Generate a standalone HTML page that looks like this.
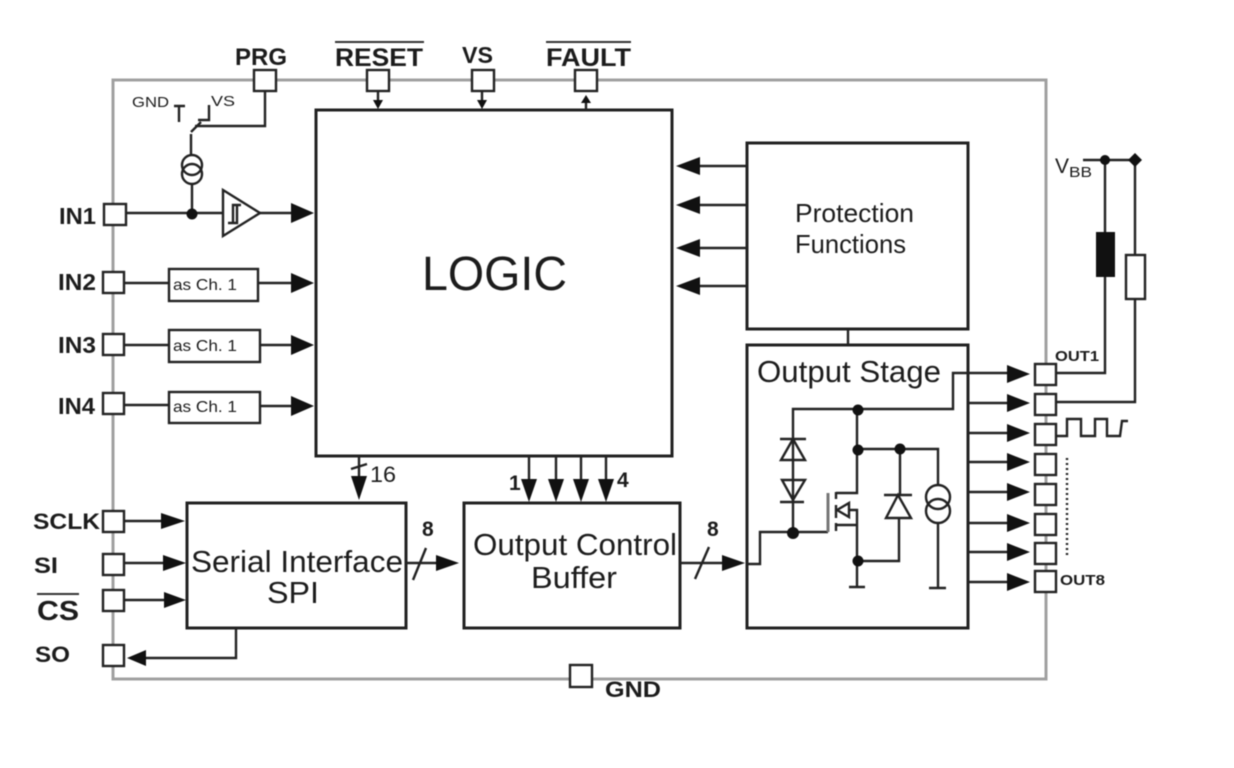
<!DOCTYPE html>
<html><head><meta charset="utf-8"><style>
html,body{margin:0;padding:0;background:#fff;width:1234px;height:768px;overflow:hidden}
svg{display:block;filter:blur(.6px)}
text{font-family:"Liberation Sans",sans-serif;fill:#1c1c1c}
.b{font-weight:bold}
</style></head><body>
<svg width="1234" height="768" viewBox="0 0 1234 768" xmlns="http://www.w3.org/2000/svg">
<rect width="1234" height="768" fill="#fff"/>
<rect x="113" y="80" width="933" height="599" fill="none" stroke="#a0a0a0" stroke-width="3"/>

<g fill="none" stroke="#222" stroke-width="3">
<rect x="316" y="110" width="356" height="346"/>
<rect x="747" y="143" width="221" height="186"/>
<rect x="747" y="345" width="221" height="283"/>
<rect x="187" y="503" width="219" height="125"/>
<rect x="464" y="503" width="216" height="125"/>
</g>

<g fill="none" stroke="#222" stroke-width="2.4">
<path d="M848 329V345"/>
<path d="M265 92V126H195M191 134V155M191 132L201 122M198 120H209V105M174 106H185M179 106V122"/>
<circle cx="192" cy="165" r="10"/><circle cx="192" cy="174" r="10"/>
<path d="M192 184V213M126 213H223M260 213H292"/>
<path d="M223 190L260 213L223 236Z"/>
<path d="M228 223H237V205M233 223V205H241"/>
<path d="M124 283H169M258 283H292M124 345H169M260 345H292M124 405H169M260 406H292"/>
<path d="M378 92V102M482 92V102M586 100V110"/>
<path d="M747 166H698M747 205H698M747 248H698M747 286H698"/>
<path d="M359 456V480M351 469L367 464M529 456V482M556 456V482M581 456V482M606 456V482"/>
<path d="M406 563H438M413 580L426 548M680 563H724M695 579L709 547"/>
<path d="M124 521H163M124 563H165M124 600H166M236 628V658H145"/>
<path d="M747 564H760V532H828M793 532V409H953V373H1010"/>
<path d="M968 403H1010M968 433H1010M968 462H1010M968 492H1010M968 523H1010M968 552H1010M968 582H1010"/>
<path d="M780 439H806M793 439L781 460H805Z"/>
<path d="M782 480H805L793 500ZM780 502H804"/>
<path d="M828 493V532" stroke="#777" stroke-width="3"/>
<path d="M836 492V499M836 505V518M836 523V531"/>
<path d="M857 410V493H836M837 510L849 503V517ZM849 510H857V587M836 525H857M849 587H865"/>
<path d="M858 449H938V486M900 449V495M884 495H912M898 495L886 518H911ZM899 518V561H858"/>
<circle cx="938" cy="497" r="12"/><circle cx="938" cy="511" r="12"/>
<path d="M938 523V588M929 588H946"/>
<path d="M1083 160H1135M1105 160V373H1057M1135 160V402H1057"/>
<path d="M1057 436H1067V419H1081V436H1095V419H1107V436H1120L1122 421H1128"/>
<path d="M1067 458V555" stroke-dasharray="2 3"/>
</g>

<g fill="#111">
<circle cx="192" cy="214" r="5.5"/>
<circle cx="793" cy="533" r="6"/><circle cx="858" cy="410" r="5.5"/><circle cx="858" cy="450" r="5.5"/>
<circle cx="900" cy="449" r="5.5"/><circle cx="858" cy="561" r="5.5"/>
<circle cx="1105" cy="160" r="5"/><path d="M1135 153L1142 160L1135 167L1128 160Z"/>
<rect x="1096" y="232" width="19" height="45"/>
<path d="M291 203L314 213L291 223ZM291 273L314 283L291 293ZM291 335L314 345L291 355ZM291 396L314 406L291 416Z"/>
<path d="M373 100H383L378 109ZM477 100H487L482 109ZM581 103H591L586 95Z"/>
<path d="M700 157L676 166L700 175ZM700 196L676 205L700 214ZM700 239L676 248L700 257ZM700 277L676 286L700 295Z"/>
<path d="M351 476H367L359 500ZM521 479H537L529 502ZM548 479H564L556 502ZM573 479H589L581 502ZM598 479H614L606 502Z"/>
<path d="M436 555L459 563L436 571ZM722 555L745 563L722 571Z"/>
<path d="M161 513L185 521L161 529ZM163 555L186 563L163 571ZM164 592L186 600L164 608ZM146 650L127 658L146 666Z"/>
<path d="M1007 365L1030 374L1007 383ZM1007 394L1030 403L1007 412ZM1007 424L1030 433L1007 442ZM1007 453L1030 462L1007 471ZM1007 483L1030 492L1007 501ZM1007 514L1030 523L1007 532ZM1007 543L1030 552L1007 561ZM1007 573L1030 582L1007 591Z"/>
</g>

<g fill="#fff" stroke="#222" stroke-width="2.4">
<rect x="254" y="70" width="22" height="21"/><rect x="367" y="70" width="22" height="21"/>
<rect x="472" y="70" width="22" height="21"/><rect x="575" y="70" width="22" height="21"/>
<rect x="104" y="204" width="22" height="21"/><rect x="103" y="272" width="21" height="21"/>
<rect x="103" y="334" width="21" height="21"/><rect x="103" y="393" width="21" height="21"/>
<rect x="103" y="511" width="21" height="21"/><rect x="103" y="554" width="21" height="21"/>
<rect x="103" y="590" width="21" height="21"/><rect x="103" y="645" width="21" height="21"/>
<rect x="570" y="665" width="22" height="22"/>
<rect x="1035" y="364" width="21" height="21"/><rect x="1035" y="394" width="21" height="21"/>
<rect x="1035" y="424" width="21" height="21"/><rect x="1035" y="454" width="21" height="21"/>
<rect x="1035" y="484" width="21" height="21"/><rect x="1035" y="514" width="21" height="21"/>
<rect x="1035" y="543" width="21" height="21"/><rect x="1035" y="571" width="21" height="21"/>
<rect x="1126" y="255" width="19" height="44"/>
<rect x="169" y="269" width="89" height="32"/><rect x="169" y="330" width="91" height="32"/><rect x="169" y="392" width="91" height="31"/>
</g>

<path d="M335 42H424M546 42H631M37 594H79" stroke="#333" stroke-width="2" fill="none"/>

<g>
<text class="b" x="235" y="65" font-size="24" textLength="52" lengthAdjust="spacingAndGlyphs">PRG</text>
<text class="b" x="335" y="66" font-size="25" textLength="88" lengthAdjust="spacingAndGlyphs">RESET</text>
<text class="b" x="462" y="63" font-size="23" textLength="31" lengthAdjust="spacingAndGlyphs">VS</text>
<text class="b" x="546" y="66" font-size="25" textLength="85" lengthAdjust="spacingAndGlyphs">FAULT</text>
<text class="b" x="59" y="224" font-size="23" textLength="37" lengthAdjust="spacingAndGlyphs">IN1</text>
<text class="b" x="58" y="290" font-size="23" textLength="38" lengthAdjust="spacingAndGlyphs">IN2</text>
<text class="b" x="58" y="353" font-size="23" textLength="38" lengthAdjust="spacingAndGlyphs">IN3</text>
<text class="b" x="58" y="414" font-size="23" textLength="37" lengthAdjust="spacingAndGlyphs">IN4</text>
<text class="b" x="33" y="529" font-size="22" textLength="67" lengthAdjust="spacingAndGlyphs">SCLK</text>
<text class="b" x="34" y="573" font-size="22" textLength="24" lengthAdjust="spacingAndGlyphs">SI</text>
<text class="b" x="37" y="620" font-size="28" textLength="42" lengthAdjust="spacingAndGlyphs">CS</text>
<text class="b" x="35" y="662" font-size="22" textLength="35" lengthAdjust="spacingAndGlyphs">SO</text>
<text class="b" x="605" y="697" font-size="22" textLength="56" lengthAdjust="spacingAndGlyphs">GND</text>
<text class="b" x="1055" y="361" font-size="15" textLength="44" lengthAdjust="spacingAndGlyphs">OUT1</text>
<text class="b" x="1060" y="585" font-size="15" textLength="45" lengthAdjust="spacingAndGlyphs">OUT8</text>
<text class="b" x="509" y="490" font-size="21">1</text>
<text class="b" x="617" y="487" font-size="21">4</text>
<text class="b" x="422" y="536" font-size="21">8</text>
<text class="b" x="707" y="536" font-size="21">8</text>
</g>

<text x="370" y="482" font-size="22" textLength="26" lengthAdjust="spacingAndGlyphs">16</text>
<text x="132" y="107" font-size="15" textLength="37" lengthAdjust="spacingAndGlyphs">GND</text>
<text x="211" y="106" font-size="15" textLength="24" lengthAdjust="spacingAndGlyphs">VS</text>
<text x="422" y="290" font-size="48" textLength="145" lengthAdjust="spacingAndGlyphs">LOGIC</text>
<text x="795" y="222" font-size="26" textLength="119" lengthAdjust="spacingAndGlyphs">Protection</text>
<text x="795" y="253" font-size="26" textLength="111" lengthAdjust="spacingAndGlyphs">Functions</text>
<text x="757" y="382" font-size="31" textLength="184" lengthAdjust="spacingAndGlyphs">Output Stage</text>
<text x="191" y="572" font-size="31" textLength="212" lengthAdjust="spacingAndGlyphs">Serial Interface</text>
<text x="267" y="603" font-size="31" textLength="52" lengthAdjust="spacingAndGlyphs">SPI</text>
<text x="473" y="555" font-size="31" textLength="204" lengthAdjust="spacingAndGlyphs">Output Control</text>
<text x="531" y="588" font-size="31" textLength="86" lengthAdjust="spacingAndGlyphs">Buffer</text>
<text x="173" y="290" font-size="16" textLength="64" lengthAdjust="spacingAndGlyphs">as Ch. 1</text>
<text x="173" y="351" font-size="16" textLength="64" lengthAdjust="spacingAndGlyphs">as Ch. 1</text>
<text x="173" y="412" font-size="16" textLength="64" lengthAdjust="spacingAndGlyphs">as Ch. 1</text>
<text x="1055" y="173" font-size="21">V</text>
<text x="1069" y="177" font-size="15" textLength="23" lengthAdjust="spacingAndGlyphs">BB</text>
</svg>
</body></html>
